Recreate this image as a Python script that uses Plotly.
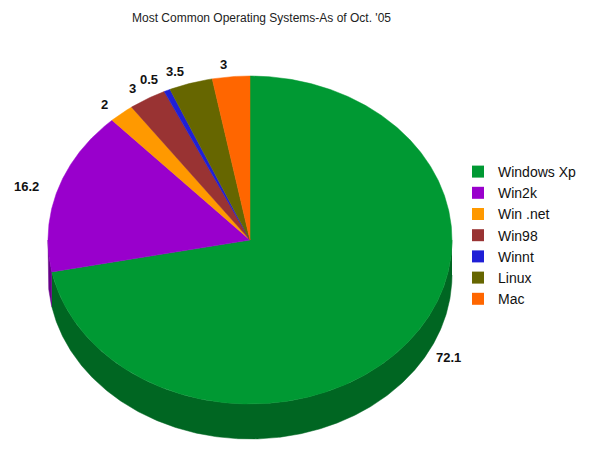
import numpy as np
import plotly.graph_objects as go

labels = ['Windows Xp', 'Win2k', 'Win .net', 'Win98', 'Winnt', 'Linux', 'Mac']
values = [72.1, 16.2, 2, 3, 0.5, 3.5, 3]
colors = ['#009933', '#9900cc', '#ff9900', '#993333', '#1f1fd6', '#666600', '#ff6600']

# page body has an 8px margin, so everything is placed 8px up/left
off = 8
cx_px, cy_px, rx_px, ry_px = 250 - off, 240 - off, 202, 164
depth_px = 35
depth = depth_px / ry_px
W, H = 600, 463


def darker(hexcol, f=0.67):
    h = hexcol.lstrip('#')
    r, g, b = (int(h[i:i + 2], 16) for i in (0, 2, 4))
    return '#%02x%02x%02x' % (int(r * f), int(g * f), int(b * f))


def arc(a0, a1, n=80):
    # angles in degrees, clockwise from 12 o'clock
    t = np.radians(np.linspace(a0, a1, max(n, 2)))
    return np.sin(t), np.cos(t)


total = sum(values)
starts = np.cumsum([0] + values[:-1]) / total * 360
ends = np.cumsum(values) / total * 360

fig = go.Figure()

# side walls (front half only: 90..270 deg)
for lab, s, e, col in zip(labels, starts, ends, colors):
    a0, a1 = max(s, 90), min(e, 270)
    if a1 <= a0:
        continue
    n = int((a1 - a0) * 2) + 2
    x, y = arc(a0, a1, n)
    xs = np.concatenate([x, x[::-1]])
    ys = np.concatenate([y, y[::-1] - depth])
    fig.add_trace(go.Scatter(x=xs, y=ys, fill='toself', fillcolor=darker(col),
                             mode='lines', line=dict(width=0.5, color=darker(col)),
                             showlegend=False, hoverinfo='skip'))

# top faces
for lab, v, s, e, col in zip(labels, values, starts, ends, colors):
    n = int((e - s) * 2) + 2
    x, y = arc(s, e, n)
    xs = np.concatenate([[0], x, [0]])
    ys = np.concatenate([[0], y, [0]])
    fig.add_trace(go.Scatter(x=xs, y=ys, fill='toself', fillcolor=col,
                             mode='lines', line=dict(width=0.5, color=col),
                             showlegend=False, name=lab, hoverinfo='name+text', text=str(v)))

# value labels, just outside the rim (pushed out further over the side wall)
for v, s, e in zip(values, starts, ends):
    m = np.radians((s + e) / 2)
    low = max(0.0, -np.cos(m))
    lx = (rx_px + 18 + 0.8 * depth_px * low) / rx_px * np.sin(m)
    ly = (ry_px + 12) / ry_px * np.cos(m) - (6 / ry_px if low > 0 else 0)
    fig.add_annotation(x=lx, y=ly, text='<b>%g</b>' % v, showarrow=False,
                       xanchor='left' if np.sin(m) >= 0 else 'right',
                       font=dict(size=13, color='#111111'))

# legend entries
for lab, col in zip(labels, colors):
    fig.add_trace(go.Scatter(x=[None], y=[None], mode='markers', name=lab,
                             marker=dict(symbol='square', size=13, color=col)))

fig.update_layout(
    width=W, height=H,
    margin=dict(l=0, r=0, t=0, b=0),
    paper_bgcolor='white', plot_bgcolor='white',
    font=dict(family='Liberation Sans, Arial, sans-serif', size=13, color='#111111'),
    title=dict(text="Most Common Operating Systems-As of Oct. '05",
               x=(261.5 - off) / W, xanchor='center',
               y=1 - (18 - off) / H, yanchor='middle', font=dict(size=12, color='#222222')),
    xaxis=dict(range=[-cx_px / rx_px, (W - cx_px) / rx_px], visible=False, fixedrange=True),
    yaxis=dict(range=[-(H - cy_px) / ry_px, cy_px / ry_px], visible=False, fixedrange=True),
    legend=dict(x=(479 - off - 21) / W, y=1 - 148 / H, xanchor='left', yanchor='top',
                font=dict(size=14), tracegroupgap=0, itemsizing='constant'),
    showlegend=True,
)

fig.write_html('out.html')
